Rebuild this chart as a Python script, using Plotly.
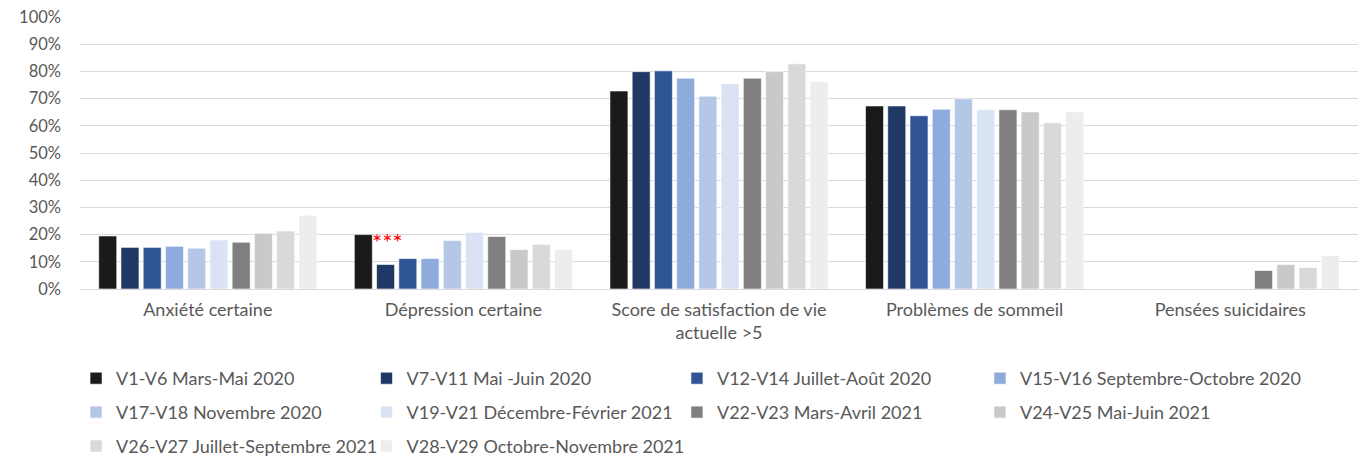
import plotly.graph_objects as go

categories = ["Anxiété certaine", "Dépression certaine",
              "Score de satisfaction de vie<br>actuelle >5",
              "Problèmes de sommeil", "Pensées suicidaires"]

series_names = ["V1-V6 Mars-Mai 2020", "V7-V11 Mai -Juin 2020",
                "V12-V14 Juillet-Août 2020", "V15-V16 Septembre-Octobre 2020",
                "V17-V18 Novembre 2020", "V19-V21 Décembre-Février 2021",
                "V22-V23 Mars-Avril 2021", "V24-V25 Mai-Juin 2021",
                "V26-V27 Juillet-Septembre 2021", "V28-V29 Octobre-Novembre 2021"]

# values per series, in order of categories (fractions)
v1_v6 = [0.195, 0.200, 0.728, 0.673, None]
v7_v11 = [0.153, 0.090, 0.799, 0.673, None]
v12_v14 = [0.153, 0.112, 0.802, 0.637, None]
v15_v16 = [0.157, 0.112, 0.775, 0.661, None]
v17_v18 = [0.150, 0.178, 0.709, 0.699, None]
v19_v21 = [0.180, 0.208, 0.755, 0.659, None]
v22_v23 = [0.172, 0.193, 0.775, 0.659, 0.068]
v24_v25 = [0.205, 0.145, 0.799, 0.651, 0.090]
v26_v27 = [0.213, 0.164, 0.828, 0.611, 0.079]
v28_v29 = [0.271, 0.145, 0.762, 0.651, 0.123]

series_values = [v1_v6, v7_v11, v12_v14, v15_v16, v17_v18,
                 v19_v21, v22_v23, v24_v25, v26_v27, v28_v29]

colors = ["#1a1a1a", "#1f3864", "#2f5597", "#8faadc", "#b4c7e7",
          "#dae3f3", "#7f7f7f", "#c9c9c9", "#d9d9d9", "#ededed"]

y_ticks = [i / 10 for i in range(11)]
y_ticklabels = [f"{i * 10}%" for i in range(11)]

FONT = "Lato"
TXT = "#595959"

# legend columns (entries listed row by row, four per row)
legend_ids = ["legend", "legend2", "legend3", "legend4"]
legend_x = [-0.0031, 0.2242, 0.4671, 0.7042]

fig = go.Figure()
for i, (name, vals, col) in enumerate(zip(series_names, series_values, colors)):
    fig.add_trace(go.Bar(
        name=name, x=categories, y=vals,
        legend=legend_ids[i % 4], legendgroup=name,
        marker=dict(color=col, line=dict(color="rgba(255,255,255,0.6)", width=1)),
        hoverinfo="x+y+name",
    ))

fig.add_annotation(
    x=categories[1], y=0.174, xref="x", yref="y", xshift=-76,
    text="***", showarrow=False, yanchor="middle",
    font=dict(family=FONT, size=24, color="#ff0000"),
)

legend_common = dict(orientation="v", xanchor="left", y=-0.261, yanchor="top",
                     itemwidth=30, traceorder="grouped", tracegroupgap=7.5,
                     bgcolor="rgba(0,0,0,0)",
                     font=dict(family=FONT, size=18, color=TXT))

fig.update_layout(
    barmode="group", bargap=0.13, bargroupgap=0.19,
    width=1367, height=456,
    margin=dict(l=80, r=9, t=17, b=167, autoexpand=False),
    paper_bgcolor="white", plot_bgcolor="white",
    font=dict(family=FONT, size=18, color=TXT),
    xaxis=dict(showgrid=False, ticks="", tickfont=dict(family=FONT, size=18, color=TXT),
               showline=False, automargin=False, ticklabelstandoff=8),
    yaxis=dict(range=[0, 1], tickvals=y_ticks, ticktext=y_ticklabels,
               showgrid=True, gridcolor="#d9d9d9", gridwidth=1,
               zeroline=True, zerolinecolor="#d9d9d9", zerolinewidth=1,
               tickfont=dict(family=FONT, size=16.5, color=TXT), ticks="",
               ticklabelstandoff=18, automargin=False),
    showlegend=True,
)
for lid, lx in zip(legend_ids, legend_x):
    fig.update_layout({lid: dict(x=lx, **legend_common)})

fig.write_html("out.html", config={"displayModeBar": False},
               post_script="document.body.style.margin='0';")
